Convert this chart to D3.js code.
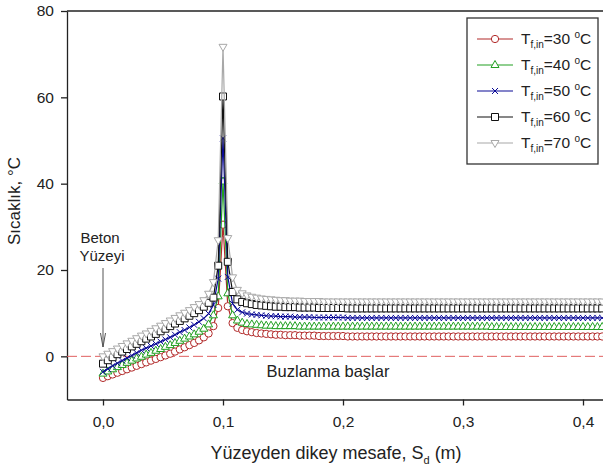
<!DOCTYPE html>
<html>
<head>
<meta charset="utf-8">
<script src="https://cdn.jsdelivr.net/npm/d3@7"></script>
<style>
  body { margin: 0; background: #fff; }
  svg text { font-family: Arial, "Liberation Sans", sans-serif; fill: #222; }
</style>
</head>
<body>
<div id="chart"></div>
<script>
// distance between measurement points along S_d (m), first point at 0
const stepX = 0.004;

// inlet fluid temperatures (legend)
const inletTemps = ["30", "40", "50", "60", "70"];

// temperature profiles, one value per point
const temp30 = [
  -5.0, -4.6, -4.2, -3.8, -3.4, -3.0, -2.6, -2.2, -1.8, -1.4,
  -1.0, -0.6, -0.2, 0.2, 0.6, 1.1, 1.6, 2.1, 2.6, 3.1,
  3.7, 4.4, 5.3, 7.0, 11.2, 30.5,
  11.6, 7.7, 6.6, 6.1, 5.8, 5.6, 5.4, 5.3, 5.2, 5.1, 5.0,
  5.0, 4.9, 4.9, 4.9, 4.8, 4.8, 4.8, 4.8, 4.7, 4.7, 4.7, 4.7, 4.7, 4.7,
  4.6, 4.6, 4.6, 4.6, 4.6, 4.6, 4.6, 4.6, 4.6, 4.6,
  4.6, 4.6, 4.6, 4.6, 4.6, 4.6, 4.6, 4.6, 4.6, 4.6,
  4.6, 4.6, 4.6, 4.6, 4.6, 4.6, 4.6, 4.6, 4.6, 4.6,
  4.6, 4.6, 4.6, 4.6, 4.6, 4.6, 4.6, 4.6, 4.6, 4.6,
  4.6, 4.6, 4.6, 4.6, 4.6, 4.6, 4.6, 4.6, 4.6, 4.6,
  4.6, 4.6, 4.6, 4.6, 4.6
];
const temp40 = [
  -4.0, -3.5, -3.0, -2.5, -2.0, -1.5, -1.0, -0.5, -0.1, 0.4,
  0.8, 1.3, 1.7, 2.2, 2.6, 3.1, 3.6, 4.1, 4.6, 5.1,
  5.7, 6.4, 7.4, 9.5, 13.9, 40.5,
  14.6, 9.5, 8.3, 7.8, 7.5, 7.4, 7.3, 7.2, 7.1, 7.1, 7.0,
  7.0, 7.0, 7.0, 7.0, 6.9, 6.9, 6.9, 6.9, 6.9, 6.9, 6.9, 6.9, 6.9, 6.9,
  6.9, 6.9, 6.9, 6.9, 6.9, 6.9, 6.9, 6.9, 6.9, 6.9,
  6.9, 6.9, 6.9, 6.9, 6.9, 6.9, 6.9, 6.9, 6.9, 6.9,
  6.9, 6.9, 6.9, 6.9, 6.9, 6.9, 6.9, 6.9, 6.9, 6.9,
  6.8, 6.8, 6.8, 6.8, 6.8, 6.8, 6.8, 6.8, 6.8, 6.8,
  6.8, 6.8, 6.8, 6.8, 6.8, 6.8, 6.8, 6.8, 6.8, 6.8,
  6.8, 6.8, 6.8, 6.8, 6.8
];
const temp50 = [
  -3.6, -2.9, -2.2, -1.6, -1.0, -0.4, 0.2, 0.8, 1.4, 1.9,
  2.4, 2.9, 3.4, 3.9, 4.4, 5.0, 5.6, 6.1, 6.7, 7.3,
  8.0, 8.8, 9.9, 11.9, 18.0, 50.5,
  18.4, 12.2, 10.8, 10.2, 9.9, 9.7, 9.6, 9.5, 9.4, 9.3, 9.3,
  9.2, 9.2, 9.2, 9.1, 9.1, 9.1, 9.1, 9.0, 9.0, 9.0, 9.0, 9.0, 9.0, 9.0,
  8.9, 8.9, 8.9, 8.9, 8.9, 8.9, 8.9, 8.9, 8.9, 8.9,
  8.9, 8.9, 8.9, 8.9, 8.9, 8.9, 8.9, 8.9, 8.9, 8.9,
  8.9, 8.9, 8.9, 8.9, 8.9, 8.9, 8.9, 8.9, 8.9, 8.9,
  8.9, 8.9, 8.9, 8.9, 8.9, 8.9, 8.9, 8.9, 8.9, 8.9,
  8.9, 8.9, 8.9, 8.9, 8.9, 8.9, 8.9, 8.9, 8.9, 8.9,
  8.9, 8.9, 8.9, 8.9, 8.9
];
const temp60 = [
  -1.7, -0.9, -0.2, 0.5, 1.1, 1.7, 2.3, 2.9, 3.5, 4.1,
  4.6, 5.2, 5.8, 6.4, 7.0, 7.6, 8.2, 8.8, 9.4, 10.0,
  10.7, 11.5, 12.4, 13.6, 21.0, 60.2,
  21.9, 14.9, 13.2, 12.6, 12.3, 12.1, 11.9, 11.8, 11.7, 11.6, 11.5,
  11.5, 11.4, 11.4, 11.4, 11.3, 11.3, 11.3, 11.3, 11.2, 11.2, 11.2, 11.2, 11.2, 11.2,
  11.1, 11.1, 11.1, 11.1, 11.1, 11.1, 11.1, 11.1, 11.1, 11.1,
  11.1, 11.1, 11.1, 11.1, 11.1, 11.1, 11.1, 11.1, 11.1, 11.1,
  11.1, 11.1, 11.1, 11.1, 11.1, 11.1, 11.1, 11.1, 11.1, 11.1,
  11.1, 11.1, 11.1, 11.1, 11.1, 11.1, 11.1, 11.1, 11.1, 11.1,
  11.1, 11.1, 11.1, 11.1, 11.1, 11.1, 11.1, 11.1, 11.1, 11.1,
  11.1, 11.1, 11.1, 11.1, 11.1
];
const temp70 = [
  0.0, 0.6, 1.2, 1.8, 2.4, 3.0, 3.6, 4.2, 4.8, 5.3,
  5.9, 6.5, 7.1, 7.7, 8.3, 8.9, 9.5, 10.1, 10.7, 11.4,
  12.1, 13.0, 14.5, 17.2, 26.9, 71.7,
  27.4, 18.3, 15.4, 14.6, 14.1, 13.8, 13.6, 13.4, 13.3, 13.2, 13.1,
  13.0, 13.0, 12.9, 12.9, 12.9, 12.8, 12.8, 12.8, 12.8, 12.7, 12.7, 12.7, 12.7, 12.7,
  12.7, 12.7, 12.7, 12.7, 12.7, 12.7, 12.7, 12.7, 12.7, 12.7,
  12.7, 12.7, 12.7, 12.7, 12.7, 12.7, 12.7, 12.7, 12.7, 12.7,
  12.7, 12.7, 12.7, 12.7, 12.7, 12.7, 12.7, 12.7, 12.7, 12.7,
  12.7, 12.7, 12.7, 12.7, 12.7, 12.7, 12.7, 12.7, 12.7, 12.7,
  12.7, 12.7, 12.7, 12.7, 12.7, 12.7, 12.7, 12.7, 12.7, 12.7,
  12.7, 12.7, 12.7, 12.7, 12.7
];

const xTicks = [0, 0.1, 0.2, 0.3, 0.4];
const yTicks = [0, 20, 40, 60, 80];

class ProfileChart {
  constructor(_config, series) {
    this.config = {
      parentElement: _config.parentElement,
      containerWidth: 603,
      containerHeight: 470,
      margin: { top: 11, left: 67 },
      plotBottom: 399.5,
      plotRight: 643,
    };
    this.series = series;
    this.initVis();
  }

  initVis() {
    let vis = this;
    const c = vis.config;

    vis.svg = d3
      .select(c.parentElement)
      .append("svg")
      .attr("width", c.containerWidth)
      .attr("height", c.containerHeight);

    // x axis runs past the right edge of the picture, like the original
    vis.x = d3.scaleLinear().domain([-0.03, 0.45]).range([c.margin.left, c.plotRight]);
    vis.y = d3.scaleLinear().domain([-10, 80]).range([c.plotBottom, c.margin.top]);

    const fmtX = (d) => d3.format(".1f")(d).replace(".", ",");

    const xAxis = vis.svg
      .append("g")
      .attr("transform", `translate(0,${c.plotBottom})`)
      .call(d3.axisBottom(vis.x).tickValues(xTicks).tickFormat(fmtX).tickSize(6).tickPadding(10).tickSizeOuter(0));
    const yAxis = vis.svg
      .append("g")
      .attr("transform", `translate(${c.margin.left},0)`)
      .call(d3.axisLeft(vis.y).tickValues(yTicks).tickSize(6).tickPadding(7).tickSizeOuter(0));

    [xAxis, yAxis].forEach((a) => {
      a.selectAll("text").style("font-size", "15.5px").style("fill", "#222");
      a.selectAll("line, path").attr("stroke", "#222").attr("stroke-width", 1.3);
    });

    // top spine
    vis.svg
      .append("line")
      .attr("x1", c.margin.left)
      .attr("x2", c.plotRight)
      .attr("y1", c.margin.top)
      .attr("y2", c.margin.top)
      .attr("stroke", "#222")
      .attr("stroke-width", 1.3);

    // freezing line at 0 °C
    vis.svg
      .append("line")
      .attr("x1", c.margin.left)
      .attr("x2", c.plotRight)
      .attr("y1", vis.y(0))
      .attr("y2", vis.y(0))
      .attr("stroke", "#e06060")
      .attr("stroke-width", 1)
      .attr("stroke-dasharray", "10,4");

    vis.svg
      .append("text")
      .attr("x", 328)
      .attr("y", 377)
      .attr("text-anchor", "middle")
      .style("font-size", "16.5px")
      .text("Buzlanma başlar");

    // surface annotation with arrow
    const ann = vis.svg.append("g");
    ann.append("text").attr("x", 100).attr("y", 243).attr("text-anchor", "middle").style("font-size", "15px").text("Beton");
    ann.append("text").attr("x", 102).attr("y", 261).attr("text-anchor", "middle").style("font-size", "15px").text("Yüzeyi");
    ann
      .append("path")
      .attr("d", `M${vis.x(0)},268V347M${vis.x(0) - 2.5},333L${vis.x(0)},347L${vis.x(0) + 2.5},333`)
      .attr("fill", "none")
      .attr("stroke", "#555")
      .attr("stroke-width", 1);

    // axis titles
    const xt = vis.svg
      .append("text")
      .attr("x", 336)
      .attr("y", 459)
      .attr("text-anchor", "middle")
      .style("font-size", "18px");
    xt.append("tspan").text("Yüzeyden dikey mesafe, S");
    xt.append("tspan").attr("dy", 5).style("font-size", "11px").text("d");
    xt.append("tspan").attr("dy", -5).text(" (m)");

    vis.svg
      .append("text")
      .attr("transform", "translate(20,201) rotate(-90)")
      .attr("text-anchor", "middle")
      .style("font-size", "17px")
      .text("Sıcaklık, °C");

    vis.renderVis();
  }

  renderVis() {
    let vis = this;
    const line = d3
      .line()
      .x((d) => vis.x(d.x))
      .y((d) => vis.y(d.y));

    vis.series.forEach((s) => {
      const pts = s.values.map((v, i) => ({ x: i * stepX, y: v }));
      const g = vis.svg.append("g").attr("class", "series");
      g.append("path")
        .attr("d", line(pts))
        .attr("fill", "none")
        .attr("stroke", s.color)
        .attr("stroke-width", 1.2);
      g.selectAll(".marker")
        .data(pts)
        .enter()
        .append("path")
        .attr("class", "marker")
        .attr("transform", (d) => `translate(${vis.x(d.x)},${vis.y(d.y)})`)
        .attr("d", s.marker)
        .attr("fill", s.fill)
        .attr("stroke", s.color)
        .attr("stroke-width", 1);
    });

    // legend
    const lg = vis.svg.append("g");
    lg.append("rect")
      .attr("x", 467)
      .attr("y", 18)
      .attr("width", 131)
      .attr("height", 146)
      .attr("fill", "#fff")
      .attr("stroke", "#333")
      .attr("stroke-width", 1.3);

    vis.series.forEach((s, i) => {
      const ly = 39 + i * 26;
      lg.append("line").attr("x1", 477).attr("x2", 513).attr("y1", ly).attr("y2", ly).attr("stroke", s.color).attr("stroke-width", 1.2);
      lg.append("path").attr("transform", `translate(495,${ly})`).attr("d", s.marker).attr("fill", s.fill).attr("stroke", s.color);
      const t = lg.append("text").attr("x", 521).attr("y", ly + 5).style("font-size", "15.5px");
      t.append("tspan").text("T");
      t.append("tspan").attr("dy", 4).style("font-size", "10px").text("f,in");
      t.append("tspan").attr("dy", -4).text(`=${s.name} `);
      t.append("tspan").attr("dy", -6).style("font-size", "10px").text("o");
      t.append("tspan").attr("dy", 6).text("C");
    });
  }
}

const markerCircle = d3.symbol(d3.symbolCircle, 42)();
const markerTriUp = "M0,-4.5L4,2.5L-4,2.5Z";
const markerX = "M-3,-3L3,3M-3,3L3,-3";
const markerSquare = "M-3.5,-3.5H3.5V3.5H-3.5Z";
const markerTriDown = "M0,4.5L4,-2.5L-4,-2.5Z";

const chartSeries = [
  { name: inletTemps[0], values: temp30, color: "#b22a2a", fill: "#fff", marker: markerCircle },
  { name: inletTemps[1], values: temp40, color: "#22a022", fill: "#fff", marker: markerTriUp },
  { name: inletTemps[2], values: temp50, color: "#0a0a96", fill: "none", marker: markerX },
  { name: inletTemps[3], values: temp60, color: "#111", fill: "#fff", marker: markerSquare },
  { name: inletTemps[4], values: temp70, color: "#a8a8a8", fill: "#fff", marker: markerTriDown },
];

new ProfileChart({ parentElement: "#chart" }, chartSeries);
</script>
</body>
</html>
